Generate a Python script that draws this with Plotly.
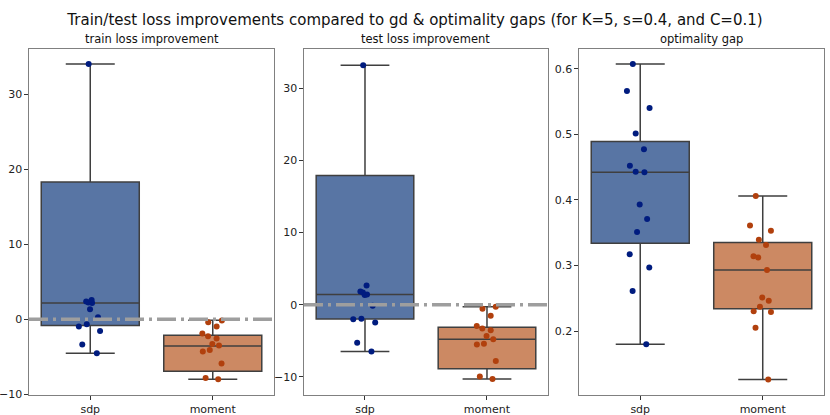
import plotly.graph_objects as go

# categories / panels
groups = ["sdp", "moment"]
panel_titles = ["train loss improvement", "test loss improvement", "optimality gap"]
title = "Train/test loss improvements compared to gd & optimality gaps (for K=5, s=0.4, and C=0.1)"

# box stats per panel: [sdp, moment]
q1 = [[-0.85, -6.93], [-1.97, -8.87], [0.334, 0.234]]
med = [[2.17, -3.56], [1.43, -4.78], [0.442, 0.293]]
q3 = [[18.27, -2.13], [17.9, -3.12], [0.489, 0.335]]
lo_fence = [[-4.53, -8.0], [-6.48, -10.3], [0.180, 0.126]]
hi_fence = [[34.0, -0.13], [33.15, -0.27], [0.607, 0.406]]

# strip points
train_sdp = [34.0, 2.57, 2.35, 2.17, 2.22, 1.33, 0.27, -0.67, -0.98, -1.56, -3.38, -4.53]
train_moment = [-0.17, -0.4, -0.98, -1.9, -2.27, -2.58, -3.29, -3.5, -4.1, -4.3, -5.9, -7.84, -8.0]
test_sdp = [33.15, 2.67, 1.84, 1.7, 1.43, 1.34, -0.14, -2.02, -1.93, -2.48, -5.28, -6.48]
test_moment = [-0.27, -0.55, -1.52, -2.94, -3.31, -3.54, -4.32, -4.78, -5.42, -5.52, -7.81, -9.93, -10.3]
gap_sdp = [0.607, 0.566, 0.540, 0.501, 0.477, 0.452, 0.442, 0.443, 0.393, 0.371, 0.351,
           0.317, 0.297, 0.261, 0.180]
gap_moment = [0.406, 0.361, 0.353, 0.339, 0.331, 0.314, 0.312, 0.293, 0.251, 0.246, 0.237,
              0.229, 0.230, 0.205, 0.126]
points = [[train_sdp, train_moment], [test_sdp, test_moment], [gap_sdp, gap_moment]]

y_ranges = [[-10.1, 36.0], [-12.5, 35.4], [0.1025, 0.630]]
y_ticks = [[-10, 0, 10, 20, 30], [-10, 0, 10, 20, 30], [0.2, 0.3, 0.4, 0.5, 0.6]]

box_fill = ["#5875a4", "#cc8963"]
dot_color = ["#001c7f", "#b1400d"]
edge = "#3f3f3f"

# plot area: 29..824 px wide, 49..395 px tall
x_domains = [[0.0, 0.3082], [0.3459, 0.6528], [0.6918, 1.0]]

fig = go.Figure()
for p in range(3):
    ax = "" if p == 0 else str(p + 1)
    for g in range(2):
        fig.add_trace(go.Box(
            x=[g], q1=[q1[p][g]], median=[med[p][g]], q3=[q3[p][g]],
            lowerfence=[lo_fence[p][g]], upperfence=[hi_fence[p][g]],
            width=0.8, whiskerwidth=0.5, fillcolor=box_fill[g],
            line=dict(color=edge, width=1.5), boxpoints=False,
            xaxis="x" + ax, yaxis="y" + ax, showlegend=False, hoverinfo="skip",
        ))
        pts = points[p][g]
        fig.add_trace(go.Box(
            x=[g] * len(pts), y=pts, width=0.8, boxpoints="all", jitter=0.3, pointpos=0,
            fillcolor="rgba(0,0,0,0)", line=dict(width=0, color="rgba(0,0,0,0)"),
            marker=dict(color=dot_color[g], size=6),
            xaxis="x" + ax, yaxis="y" + ax, showlegend=False,
        ))

axis_style = dict(showline=True, mirror=True, linecolor="#808080", linewidth=1.2,
                  ticks="outside", ticklen=3.5, tickcolor="#333", showgrid=False,
                  zeroline=False, automargin=False, tickfont=dict(size=11, color="#222"))
for p in range(3):
    ax = "" if p == 0 else str(p + 1)
    fig.layout["xaxis" + ax] = dict(
        domain=x_domains[p], range=[-0.5, 1.5], tickvals=[0, 1], ticktext=groups,
        anchor="y" + ax, **axis_style)
    fig.layout["yaxis" + ax] = dict(
        domain=[0, 1], range=y_ranges[p], tickvals=y_ticks[p],
        anchor="x" + ax, **axis_style)
    fig.add_annotation(text=panel_titles[p], x=sum(x_domains[p]) / 2, y=1,
                       xref="paper", yref="paper", xanchor="center", yanchor="bottom",
                       yshift=1, showarrow=False, font=dict(size=11.5, color="#111"))

# zero reference line in the loss panels
for p in range(2):
    ax = "" if p == 0 else str(p + 1)
    fig.add_shape(type="line", xref="x" + ax + " domain", yref="y" + ax,
                  x0=0, x1=1, y0=0, y1=0,
                  line=dict(color="#9e9e9e", width=3.5, dash="19px,5px,3px,5px"))

fig.update_layout(
    width=830, height=415, margin=dict(l=29, r=6, t=49, b=20),
    plot_bgcolor="white", paper_bgcolor="white",
    font=dict(family="DejaVu Sans"), boxmode="overlay",
    title=dict(text=title, x=0.5, xanchor="center", y=1 - 20 / 415, yanchor="middle",
               font=dict(size=15, color="#111")),
)

# drop the page's default body margin so the figure sits at the window corner
fig.write_html("out.html", config={"displayModeBar": False},
               post_script="document.body.style.margin='0';")
